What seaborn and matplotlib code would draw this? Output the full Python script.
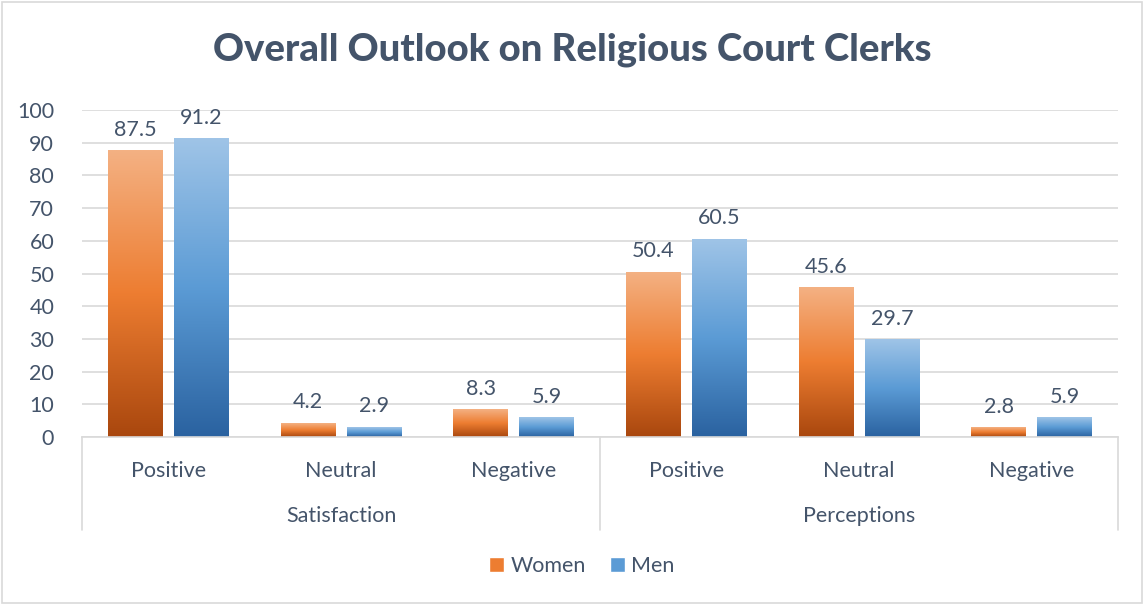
import os
import numpy as np
import pandas as pd
import matplotlib
matplotlib.use("Agg")
import matplotlib.pyplot as plt
import seaborn as sns
from matplotlib import font_manager
from matplotlib.colors import LinearSegmentedColormap
from matplotlib.patches import Rectangle
from matplotlib.transforms import blended_transform_factory

groups = ["Satisfaction", "Satisfaction", "Satisfaction", "Perceptions", "Perceptions", "Perceptions"]
categories = ["Positive", "Neutral", "Negative", "Positive", "Neutral", "Negative"]
women = [87.5, 4.2, 8.3, 50.4, 45.6, 2.8]
men = [91.2, 2.9, 5.9, 60.5, 29.7, 5.9]
series = ["Women", "Men"]
yticks = [0, 10, 20, 30, 40, 50, 60, 70, 80, 90, 100]

keys = [f"{g}|{c}" for g, c in zip(groups, categories)]
df = pd.DataFrame({
    "key": keys * 2,
    "value": women + men,
    "series": ["Women"] * len(keys) + ["Men"] * len(keys),
})

sns.set_theme(style="white")
plt.rcParams["font.family"] = ["Lato", "DejaVu Sans"]
TXT = "#44546A"
GRID = "#D9D9D9"
FS = 15.5

bold_path = None
for cand in ["/usr/share/fonts/truetype/lato/Lato-Heavy.ttf",
             "/usr/share/fonts/truetype/google-fonts/Lato-ExtraBold.ttf",
             "/usr/share/fonts/truetype/lato/Lato-Bold.ttf"]:
    if os.path.exists(cand):
        bold_path = cand
        break
if bold_path:
    title_fp = font_manager.FontProperties(fname=bold_path, size=27.5)
else:
    title_fp = font_manager.FontProperties(family="Lato", weight="heavy", size=27.5)

mid = {"Women": "#ED7D31", "Men": "#5B9BD5"}
cmaps = {
    "Women": LinearSegmentedColormap.from_list("w", ["#A9470E", "#ED7D31", "#F4B183"]),
    "Men": LinearSegmentedColormap.from_list("m", ["#2A62A0", "#5B9BD5", "#9FC4E7"]),
}

fig = plt.figure(figsize=(11.45, 6.05), dpi=100)
ax = fig.add_axes([82 / 1145, 168 / 605, (1118 - 82) / 1145, (437 - 110) / 605])

sns.barplot(data=df, x="key", y="value", hue="series", hue_order=series,
            palette=mid, width=0.765, gap=0.17, ax=ax, legend=False,
            saturation=1, order=keys)

grad = np.linspace(0, 1, 256).reshape(-1, 1)
for cont, s in zip(ax.containers, series):
    for p in cont.patches:
        x0, y0 = p.get_x(), p.get_y()
        w, h = p.get_width(), p.get_height()
        ax.imshow(grad, extent=[x0, x0 + w, y0, y0 + h], origin="lower",
                  aspect="auto", cmap=cmaps[s], zorder=2)
        p.set_alpha(0)
    ax.bar_label(cont, fmt="%.1f", padding=8, fontsize=FS, color=TXT)

ax.set_xlim(-0.5, 5.5)
ax.set_ylim(0, 100)
ax.set_yticks(yticks)
ax.set_yticklabels([str(t) for t in yticks], fontsize=FS, color=TXT)
ax.tick_params(axis="y", length=0, pad=20)
ax.set_xticks(range(len(keys)))
ax.set_xticklabels(categories, fontsize=FS, color=TXT)
ax.tick_params(axis="x", length=0, pad=17)
ax.yaxis.grid(True, color=GRID, linewidth=1.2)
ax.set_axisbelow(True)
ax.set_xlabel("")
ax.set_ylabel("")
for side in ["top", "right", "left"]:
    ax.spines[side].set_visible(False)
ax.spines["bottom"].set_color(GRID)
ax.spines["bottom"].set_linewidth(1.2)

trans = blended_transform_factory(ax.transData, ax.transAxes)
for xs in [-0.5, 2.5, 5.5]:
    ax.plot([xs, xs], [0, -0.285], transform=trans, color=GRID, lw=1.2, clip_on=False)
for gname, xc in [("Satisfaction", 1.0), ("Perceptions", 4.0)]:
    ax.text(xc, -0.243, gname, transform=trans, ha="center", va="center",
            fontsize=FS, color=TXT)

fig.suptitle("Overall Outlook on Religious Court Clerks", x=0.5, y=0.947,
             fontproperties=title_fp, color=TXT)

handles = [Rectangle((0, 0), 1, 1, facecolor=mid[s]) for s in series]
fig.legend(handles, series, loc="center", bbox_to_anchor=(0.508, 0.064), ncol=2,
           frameon=False, fontsize=FS, handlelength=0.7, handleheight=0.7,
           handletextpad=0.3, columnspacing=1.1, labelcolor=TXT)

fig.patches.append(Rectangle((0.002, 0.004), 0.995, 0.992, transform=fig.transFigure,
                             fill=False, edgecolor=GRID, lw=1.2))

fig.savefig("out.png", dpi=100, facecolor="white")
